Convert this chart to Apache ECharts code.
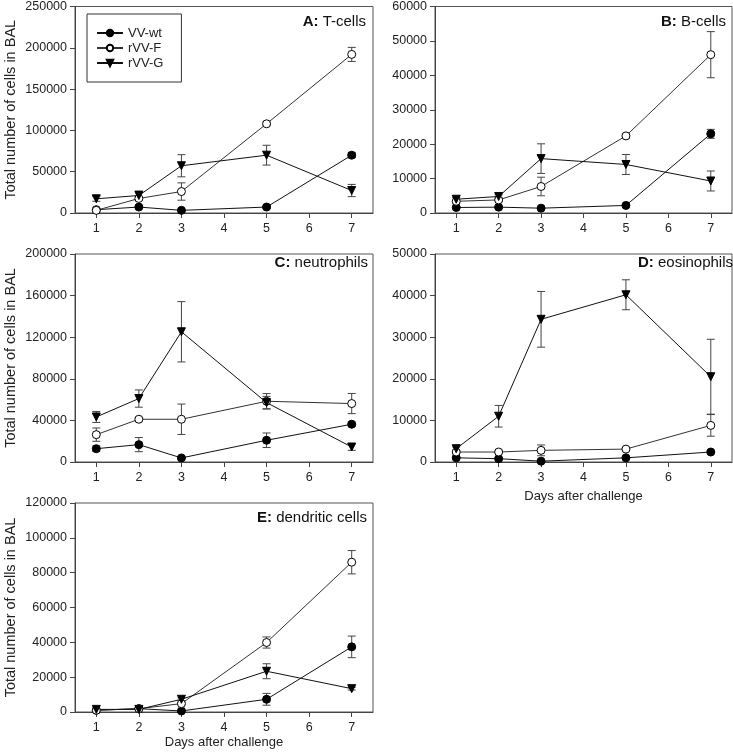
<!DOCTYPE html>
<html>
<head>
<meta charset="utf-8">
<script src="https://cdn.jsdelivr.net/npm/echarts@6/dist/echarts.min.js"></script>
<style>
  html, body { margin: 0; padding: 0; background: #fff; }
  #main { width: 733px; height: 753px; }
</style>
</head>
<body>
<div id="main"></div>
<script>
// days sampled
var days = [1, 2, 3, 5, 7];
var dayTicks = [1, 2, 3, 4, 5, 6, 7];
var groups = ['VV-wt', 'rVV-F', 'rVV-G'];

// A: T-cells
var aWt = [4000, 7200, 3200, 7200, 70000];
var aWtErr = [1000, 1500, 1000, 1500, 3000];
var aF = [3200, 17600, 26000, 108000, 192000];
var aFErr = [1000, 2000, 10500, 2000, 8500];
var aG = [17200, 21200, 57200, 70000, 27200];
var aGErr = [3000, 5500, 13400, 12000, 7400];

// B: B-cells
var bWt = [1600, 1700, 1400, 2200, 23000];
var bWtErr = [300, 300, 300, 300, 1300];
var bF = [3400, 3800, 7700, 22400, 46000];
var bFErr = [500, 500, 2700, 500, 6700];
var bG = [4000, 4800, 15800, 14100, 9300];
var bGErr = [500, 500, 4300, 2900, 2900];

// C: neutrophils
var cWt = [12800, 16700, 3900, 20900, 36300];
var cWtErr = [2500, 6800, 1000, 7000, 2000];
var cF = [26300, 41100, 41100, 58400, 56200];
var cFErr = [6400, 1500, 14600, 7400, 9700];
var cG = [43300, 61000, 125200, 57100, 14400];
var cGErr = [5300, 8300, 29000, 6000, 3200];

// D: eosinophils
var dWt = [1000, 800, 200, 1000, 2400];
var dWtErr = [200, 200, 100, 200, 300];
var dF = [2400, 2400, 2800, 3100, 8800];
var dFErr = [300, 300, 1300, 300, 2600];
var dG = [3200, 11000, 34300, 40200, 20500];
var dGErr = [400, 2600, 6700, 3600, 9000];

// E: dendritic cells
var eWt = [1000, 1900, 600, 7300, 37400];
var eWtErr = [200, 300, 200, 3400, 6200];
var eF = [1000, 1900, 4800, 39900, 86000];
var eFErr = [200, 300, 500, 3200, 6700];
var eG = [1500, 1500, 7300, 23400, 13400];
var eGErr = [200, 200, 800, 4300, 800];

var panels = [
  {label: 'A:', name: 'T-cells', max: 250000, step: 50000, vals: [aWt, aF, aG], errs: [aWtErr, aFErr, aGErr]},
  {label: 'B:', name: 'B-cells', max: 60000, step: 10000, vals: [bWt, bF, bG], errs: [bWtErr, bFErr, bGErr]},
  {label: 'C:', name: 'neutrophils', max: 200000, step: 40000, vals: [cWt, cF, cG], errs: [cWtErr, cFErr, cGErr]},
  {label: 'D:', name: 'eosinophils', max: 50000, step: 10000, vals: [dWt, dF, dG], errs: [dWtErr, dFErr, dGErr]},
  {label: 'E:', name: 'dendritic cells', max: 120000, step: 20000, vals: [eWt, eF, eG], errs: [eWtErr, eFErr, eGErr]}
];

var font = "'Liberation Sans', Arial, sans-serif";

// panel boxes
var boxes = [
  {left: 75, top: 5, width: 298, height: 208},
  {left: 435, top: 5, width: 297, height: 208},
  {left: 75, top: 254, width: 298, height: 208},
  {left: 435, top: 254, width: 297, height: 208},
  {left: 75, top: 503, width: 298, height: 209}
];
var titlePos = [
  {right: 367, top: 14},
  {right: 7, top: 14},
  {right: 365, top: 255},
  {right: 0, top: 255},
  {right: 366, top: 510}
];

function renderErr(params, api) {
  var x = api.value(0);
  var p1 = api.coord([x, api.value(2)]);
  var p2 = api.coord([x, api.value(1)]);
  var w = 4;
  var st = {stroke: '#444', lineWidth: 1};
  return {
    type: 'group',
    children: [
      {type: 'line', shape: {x1: p1[0], y1: p1[1], x2: p2[0], y2: p2[1]}, style: st},
      {type: 'line', shape: {x1: p1[0] - w, y1: p1[1], x2: p1[0] + w, y2: p1[1]}, style: st},
      {type: 'line', shape: {x1: p2[0] - w, y1: p2[1], x2: p2[0] + w, y2: p2[1]}, style: st}
    ]
  };
}

var grids = [], xAxes = [], yAxes = [], series = [], titles = [];

panels.forEach(function(p, i) {
  var b = boxes[i];
  grids.push({left: b.left, top: b.top, width: b.width, height: b.height,
    show: true, borderColor: '#555', borderWidth: 1, backgroundColor: 'transparent'});
  xAxes.push({
    type: 'value', gridIndex: i, min: 0.5, max: 7.5,
    name: (i === 3 || i === 4) ? 'Days after challenge' : '',
    nameLocation: 'middle', nameGap: i === 3 ? 28 : 24,
    nameTextStyle: {fontFamily: font, fontSize: 13, color: '#222'},
    axisLine: {lineStyle: {color: '#444'}},
    axisTick: {show: true, length: 5, customValues: dayTicks, lineStyle: {color: '#444'}},
    axisLabel: {customValues: dayTicks, margin: 9, fontFamily: font, fontSize: 12.5, color: '#222'},
    splitLine: {show: false}
  });
  yAxes.push({
    type: 'value', gridIndex: i, min: 0, max: p.max, interval: p.step,
    name: (i % 2 === 0) ? 'Total number of cells in BAL' : '',
    nameLocation: 'middle', nameGap: 57,
    nameTextStyle: {fontFamily: font, fontSize: 14.5, color: '#222'},
    axisLine: {show: true, lineStyle: {color: '#444'}},
    axisTick: {show: true, length: 5, lineStyle: {color: '#444'}},
    axisLabel: {margin: 8, fontFamily: font, fontSize: 12.5, color: '#222',
      formatter: function(v) { return String(v); }},
    splitLine: {show: false}
  });
  titles.push({
    text: '{b|' + p.label + '} ' + p.name,
    right: titlePos[i].right, top: titlePos[i].top, padding: 0,
    textStyle: {fontFamily: font, fontSize: 15, fontWeight: 'normal', color: '#111',
      rich: {b: {fontFamily: font, fontSize: 15, fontWeight: 'bold', color: '#111'}}}
  });

  groups.forEach(function(g, k) {
    var vals = p.vals[k], errs = p.errs[k];
    series.push({
      type: 'custom', xAxisIndex: i, yAxisIndex: i, z: 1,
      renderItem: renderErr, silent: true,
      data: days.map(function(d, j) { return [d, vals[j] - errs[j], vals[j] + errs[j]]; })
    });
  });
  groups.forEach(function(g, k) {
    var vals = p.vals[k];
    var s = {
      name: g, type: 'line', xAxisIndex: i, yAxisIndex: i, z: 3,
      data: days.map(function(d, j) { return [d, vals[j]]; }),
      lineStyle: {color: '#111', width: 1},
      symbolSize: 8,
      symbol: 'circle',
      itemStyle: {color: '#000', borderColor: '#000', borderWidth: 1}
    };
    if (k === 1) {
      s.itemStyle = {color: '#fff', borderColor: '#000', borderWidth: 1};
      s.lineStyle = {color: '#333', width: 1};
    }
    if (k === 2) {
      s.symbol = 'triangle';
      s.symbolRotate = 180;
      s.symbolSize = 8;
    }
    series.push(s);
  });
});

var chart = echarts.init(document.getElementById('main'));
chart.setOption({
  animation: false,
  backgroundColor: '#fff',
  title: titles,
  legend: {
    data: groups, orient: 'vertical', left: 87, top: 14,
    padding: [12, 18, 12, 9], itemGap: 1,
    itemWidth: 26, itemHeight: 8,
    borderColor: '#333', borderWidth: 1,
    textStyle: {fontFamily: font, fontSize: 13, color: '#222', lineHeight: 14}
  },
  grid: grids,
  xAxis: xAxes,
  yAxis: yAxes,
  series: series
});
</script>
</body>
</html>
